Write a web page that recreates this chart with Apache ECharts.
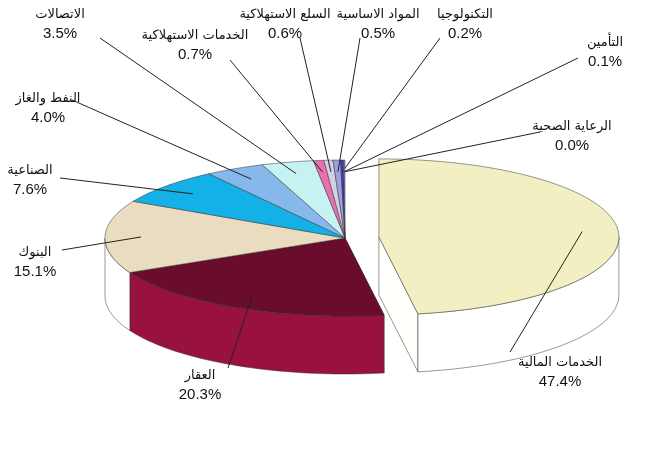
<!DOCTYPE html>
<html><head><meta charset="utf-8">
<script src="https://cdn.jsdelivr.net/npm/echarts@6/dist/echarts.min.js"></script>
<style>html,body{margin:0;background:#fff}#c{width:662px;height:450px}</style>
</head><body><div id="c"></div>
<script>
// sectors, clockwise from 12 o'clock
const sectors = ['الخدمات المالية','العقار','البنوك','الصناعية','النفط والغاز','الاتصالات',
  'الخدمات الاستهلاكية','السلع الاستهلاكية','المواد الاساسية','التكنولوجيا','التأمين','الرعاية الصحية'];
const shares = [47.4, 20.3, 15.1, 7.6, 4.0, 3.5, 0.7, 0.6, 0.5, 0.2, 0.1, 0.0];
const colors = ['#f2f0c2','#6a0c2c','#eadcc0','#14b0e8','#86b8ec','#c6f2f2',
  '#e870b0','#d4d0e8','#a0a0e0','#3c3cb0','#7f7ff0','#606060'];
// label layout: text centre x, y, leader start x, y
const labelPos = [[560,372,510,352],[200,385,228,368],[35,262,62,250],[30,180,60,178],
  [48,108,72,100],[60,24,100,38],[195,45,230,60],[285,24,300,38],[378,24,360,38],
  [465,24,440,38],[605,52,578,58],[572,136,540,132]];

const cx = 345, cy = 238, rx = 240, ry = 78, depth = 58, explode = 34;
const total = shares.reduce((a, b) => a + b, 0);
const starts = []; let acc = 0;
shares.forEach(v => { starts.push(-Math.PI / 2 + acc / total * 2 * Math.PI); acc += v; });

function geom(i) {
  const a0 = starts[i], a1 = a0 + shares[i] / total * 2 * Math.PI, m = (a0 + a1) / 2;
  const ox = i === 0 ? explode * Math.cos(m) : 0, oy = i === 0 ? explode * Math.sin(m) * 0.4 : 0;
  return {a0, a1, m, x: cx + ox, y: cy + oy};
}
const pt = (g, a, dy) => [g.x + rx * Math.cos(a), g.y + ry * Math.sin(a) + (dy || 0)];
function arc(g, a0, a1, dy) {
  const n = Math.max(2, Math.ceil((a1 - a0) / 0.03)), out = [];
  for (let k = 0; k <= n; k++) out.push(pt(g, a0 + (a1 - a0) * k / n, dy));
  return out;
}

function renderSide(params, api) {
  const i = params.dataIndex, g = geom(i), ch = [];
  const dark = echarts.color.lift(colors[i], -0.45);
  // radial cut faces next to the exploded gap
  if (i === 0) {
    const e = pt(g, g.a1);
    ch.push({type: 'polygon', shape: {points: [[g.x, g.y], e, [e[0], e[1] + depth], [g.x, g.y + depth]]},
      style: {fill: echarts.color.lift(colors[i], -0.3), stroke: '#333', lineWidth: 0.5}});
  }
  if (i === 1) {
    const e = pt(g, g.a0);
    ch.push({type: 'polygon', shape: {points: [[g.x, g.y], e, [e[0], e[1] + depth], [g.x, g.y + depth]]},
      style: {fill: echarts.color.lift(colors[i], -0.3), stroke: '#333', lineWidth: 0.5}});
  }
  const s = Math.max(g.a0, 0), e = Math.min(g.a1, Math.PI);
  if (e > s) {
    const pts = arc(g, s, e, 0).concat(arc(g, s, e, depth).reverse());
    ch.push({type: 'polygon', shape: {points: pts}, style: {fill: dark, stroke: '#333', lineWidth: 0.5}});
  }
  return {type: 'group', children: ch};
}

function renderTop(params, api) {
  const i = params.dataIndex, g = geom(i), ch = [];
  if (shares[i] > 0) {
    ch.push({type: 'polygon', shape: {points: [[g.x, g.y]].concat(arc(g, g.a0, g.a1, 0))},
      style: {fill: colors[i], stroke: '#333', lineWidth: 0.5}});
  }
  const L = labelPos[i], t = pt(g, g.m);
  const tx = g.x + (t[0] - g.x) * 0.85, ty = g.y + (t[1] - g.y) * 0.85;
  ch.push({type: 'line', shape: {x1: L[2], y1: L[3], x2: tx, y2: ty}, style: {stroke: '#222', lineWidth: 1}});
  ch.push({type: 'text', style: {text: sectors[i], x: L[0], y: L[1] - 9, align: 'center', verticalAlign: 'middle',
    font: '13px "DejaVu Sans"', fill: '#111'}});
  ch.push({type: 'text', style: {text: shares[i].toFixed(1) + '%', x: L[0], y: L[1] + 10, align: 'center', verticalAlign: 'middle',
    font: '15px "Liberation Sans", Arial', fill: '#111'}});
  return {type: 'group', children: ch};
}

const chart = echarts.init(document.getElementById('c'));
chart.setOption({
  animation: false,
  series: [
    {type: 'custom', coordinateSystem: 'none', data: shares, renderItem: renderSide, z: 1},
    {type: 'custom', coordinateSystem: 'none', data: shares, renderItem: renderTop, z: 2}
  ]
});
</script></body></html>
